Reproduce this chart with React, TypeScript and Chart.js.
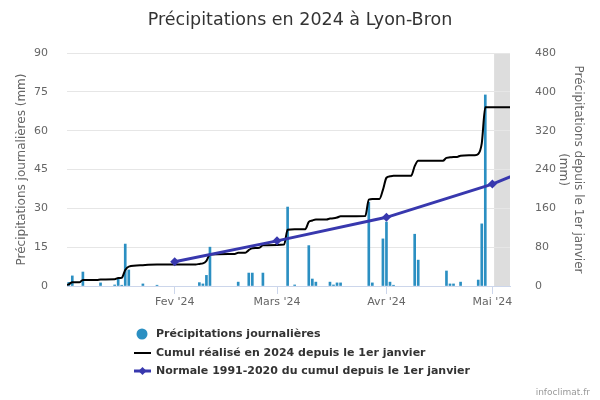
import React, { useEffect, useRef } from "react";
import { Chart, registerables } from "chart.js";

Chart.register(...registerables);

const FONT = "'DejaVu Sans', sans-serif";

const TITLE = "Précipitations en 2024 à Lyon-Bron";
const LEFT_AXIS_TITLE = "Précipitations journalières (mm)";
const RIGHT_AXIS_TITLE = ["Précipitations depuis le 1er janvier", "(mm)"];
const LEGEND_LABELS = [
  "Précipitations journalières",
  "Cumul réalisé en 2024 depuis le 1er janvier",
  "Normale 1991-2020 du cumul depuis le 1er janvier",
];
const CREDITS = "infoclimat.fr";

// x = day of year (Jan 1 = 0)
const MONTH_TICK_DAYS = [31, 60, 91, 121];
const MONTH_TICK_LABELS = ["Fev '24", "Mars '24", "Avr '24", "Mai '24"];
const X_MIN = 0.5;
const X_MAX = 126;
const FUTURE_START = 121.5;

// Daily precipitation (mm)
const RAIN_DAYS = [1, 2, 5, 10, 14, 15, 16, 17, 18, 22, 26, 38, 39, 40, 41, 49, 52, 53, 56, 63, 65, 69, 70, 71, 75, 76, 77, 78, 86, 87, 90, 91, 92, 93, 99, 100, 108, 109, 110, 112, 117, 118, 119];
const RAIN_MM = [1.4, 3.9, 5.4, 1.2, 0.4, 2.8, 0.3, 16.2, 6.2, 0.8, 0.3, 1.3, 0.8, 4.1, 15, 1.5, 5, 5, 5, 30.5, 0.4, 15.6, 2.7, 1.5, 1.5, 0.4, 1.2, 1.2, 32.4, 1.2, 18.2, 24.7, 1.5, 0.3, 20, 10, 5.8, 0.8, 0.8, 1.5, 2.3, 24, 73.8];

// Cumulative 2024 (mm)
const CUMUL_DAYS = [0, 1, 2, 4, 5, 9, 10, 14, 15, 16, 17, 18, 22, 26, 37, 38, 39, 40, 41, 48, 49, 51, 52, 53, 55, 56, 62, 63, 65, 68, 69, 70, 71, 74, 75, 76, 77, 78, 85, 86, 87, 89, 90, 91, 92, 93, 98, 99, 100, 107, 108, 109, 110, 111, 112, 116, 117, 118, 119, 126];
const CUMUL_MM = [1.5, 3.5, 7.5, 7.5, 12.5, 12.5, 13.5, 14, 16.5, 17, 33, 40, 43, 44.5, 44.5, 45.5, 46.5, 52, 65, 66, 68.5, 68.5, 74, 78, 79, 84, 85.5, 116, 117, 117, 132, 135, 137, 137, 139, 139.5, 141, 143.5, 144, 178, 179, 179, 198, 223, 226, 227, 227, 247, 258, 258, 264, 265, 266, 266, 268.5, 269.5, 272, 294, 368, 368];

// Normal 1991-2020 cumulative (mm)
const NORMAL_DAYS = [31, 60, 91, 121, 152];
const NORMAL_MM = [50, 93, 141.5, 210, 302];

const BAR_COLOR = "#2b8fc2";
const CUMUL_COLOR = "#000000";
const NORMAL_COLOR = "#3838ae";

const bandPlugin = {
  id: "futureBand",
  beforeDraw(chart: any) {
    const { ctx, chartArea, scales } = chart;
    const x0 = scales.x.getPixelForValue(FUTURE_START);
    ctx.save();
    ctx.fillStyle = "#dddddd";
    ctx.fillRect(x0, chartArea.top, chartArea.right - x0, chartArea.bottom - chartArea.top);
    ctx.restore();
  },
};

function LegendSymbol({ kind }: { kind: number }) {
  if (kind === 0) {
    return (
      <svg width="17" height="14" style={{ display: "block" }}>
        <circle cx="8" cy="7" r="5.5" fill={BAR_COLOR} />
      </svg>
    );
  }
  if (kind === 1) {
    return (
      <svg width="17" height="14" style={{ display: "block" }}>
        <line x1="0" y1="7" x2="17" y2="7" stroke={CUMUL_COLOR} strokeWidth="2" />
      </svg>
    );
  }
  return (
    <svg width="17" height="14" style={{ display: "block" }}>
      <line x1="0" y1="7" x2="17" y2="7" stroke={NORMAL_COLOR} strokeWidth="3" />
      <polygon points="8.5,3 12.5,7 8.5,11 4.5,7" fill={NORMAL_COLOR} />
    </svg>
  );
}

export default function App() {
  const canvasRef = useRef<HTMLCanvasElement | null>(null);

  useEffect(() => {
    const canvas = canvasRef.current;
    if (!canvas) return;
    const tickFont = { family: FONT, size: 11 };
    const chart = new Chart(canvas, {
      type: "line",
      data: {
        datasets: [
          {
            type: "line",
            label: LEGEND_LABELS[2],
            data: NORMAL_DAYS.map((d, i) => ({ x: d, y: NORMAL_MM[i] })),
            yAxisID: "y1",
            xAxisID: "x",
            borderColor: NORMAL_COLOR,
            backgroundColor: NORMAL_COLOR,
            borderWidth: 3,
            pointStyle: "rectRot",
            pointRadius: 4.5,
            pointHoverRadius: 4.5,
            pointBorderWidth: 0,
            tension: 0,
            order: 0,
          },
          {
            type: "line",
            label: LEGEND_LABELS[1],
            data: CUMUL_DAYS.map((d, i) => ({ x: d, y: CUMUL_MM[i] })),
            yAxisID: "y1",
            xAxisID: "x",
            borderColor: CUMUL_COLOR,
            backgroundColor: CUMUL_COLOR,
            borderWidth: 2,
            pointRadius: 0,
            cubicInterpolationMode: "monotone",
            order: 1,
          },
          {
            type: "bar",
            label: LEGEND_LABELS[0],
            data: RAIN_DAYS.map((d, i) => ({ x: d, y: RAIN_MM[i] })),
            yAxisID: "y",
            xAxisID: "x",
            backgroundColor: BAR_COLOR,
            barThickness: 2,
            order: 2,
          },
        ] as any,
      },
      options: {
        responsive: false,
        animation: false,
        events: [],
        layout: { padding: 0 },
        plugins: {
          legend: { display: false },
          tooltip: { enabled: false },
          title: {
            display: true,
            text: TITLE,
            color: "#333333",
            font: { family: FONT, size: 17.5, weight: "normal" },
            padding: { top: 9.5, bottom: 22.5 },
          },
        },
        scales: {
          x: {
            type: "linear",
            position: "bottom",
            min: X_MIN,
            max: X_MAX,
            offset: false,
            afterFit(s: any) {
              s.height = 114;
            },
            afterBuildTicks(s: any) {
              s.ticks = MONTH_TICK_DAYS.map((v) => ({ value: v }));
            },
            ticks: {
              autoSkip: false,
              maxRotation: 0,
              color: "#666666",
              font: tickFont,
              padding: 2,
              callback: (v: any) => {
                const i = MONTH_TICK_DAYS.indexOf(Number(v));
                return i >= 0 ? MONTH_TICK_LABELS[i] : "";
              },
            },
            grid: {
              offset: false,
              drawOnChartArea: false,
              drawTicks: true,
              tickLength: 8,
              color: "#ccd6eb",
            },
            border: { display: true, color: "#ccd6eb" },
          },
          y: {
            type: "linear",
            position: "left",
            min: 0,
            max: 90,
            afterFit(s: any) {
              s.width = 67;
            },
            ticks: { stepSize: 15, color: "#666666", font: tickFont, padding: 19 },
            grid: { color: "#e6e6e6", drawTicks: false },
            border: { display: false },
            title: {
              display: true,
              text: LEFT_AXIS_TITLE,
              color: "#666666",
              font: { family: FONT, size: 12 },
              padding: { top: 14.8, bottom: 0 },
            },
          },
          y1: {
            type: "linear",
            position: "right",
            min: 0,
            max: 480,
            afterFit(s: any) {
              s.width = 90;
            },
            ticks: { stepSize: 80, color: "#666666", font: tickFont, padding: 17 },
            grid: { display: false, drawOnChartArea: false },
            border: { display: false },
            title: {
              display: true,
              text: RIGHT_AXIS_TITLE,
              color: "#666666",
              font: { family: FONT, size: 12 },
              padding: { top: 14.8, bottom: 0 },
            },
          },
        },
      } as any,
      plugins: [bandPlugin],
    });
    return () => chart.destroy();
  }, []);

  const rowTops = [326, 344.5, 362.5];

  return (
    <div style={{ position: "fixed", left: 0, top: 0, width: 600, height: 400, background: "#ffffff", overflow: "hidden" }}>
      <canvas ref={canvasRef} width={600} height={400} style={{ position: "absolute", left: 0, top: 0, width: 600, height: 400 }} />
      {LEGEND_LABELS.map((label, i) => (
        <div
          key={label}
          style={{
            position: "absolute",
            left: 134,
            top: rowTops[i],
            height: 16,
            display: "flex",
            alignItems: "center",
            whiteSpace: "nowrap",
          }}
        >
          <LegendSymbol kind={i} />
          <span style={{ marginLeft: 5, fontFamily: FONT, fontWeight: "bold", fontSize: 11, color: "#333333", lineHeight: "16px" }}>{label}</span>
        </div>
      ))}
      <div style={{ position: "absolute", right: 10, top: 386, fontFamily: FONT, fontSize: 9, color: "#999999", lineHeight: "12px" }}>{CREDITS}</div>
    </div>
  );
}
